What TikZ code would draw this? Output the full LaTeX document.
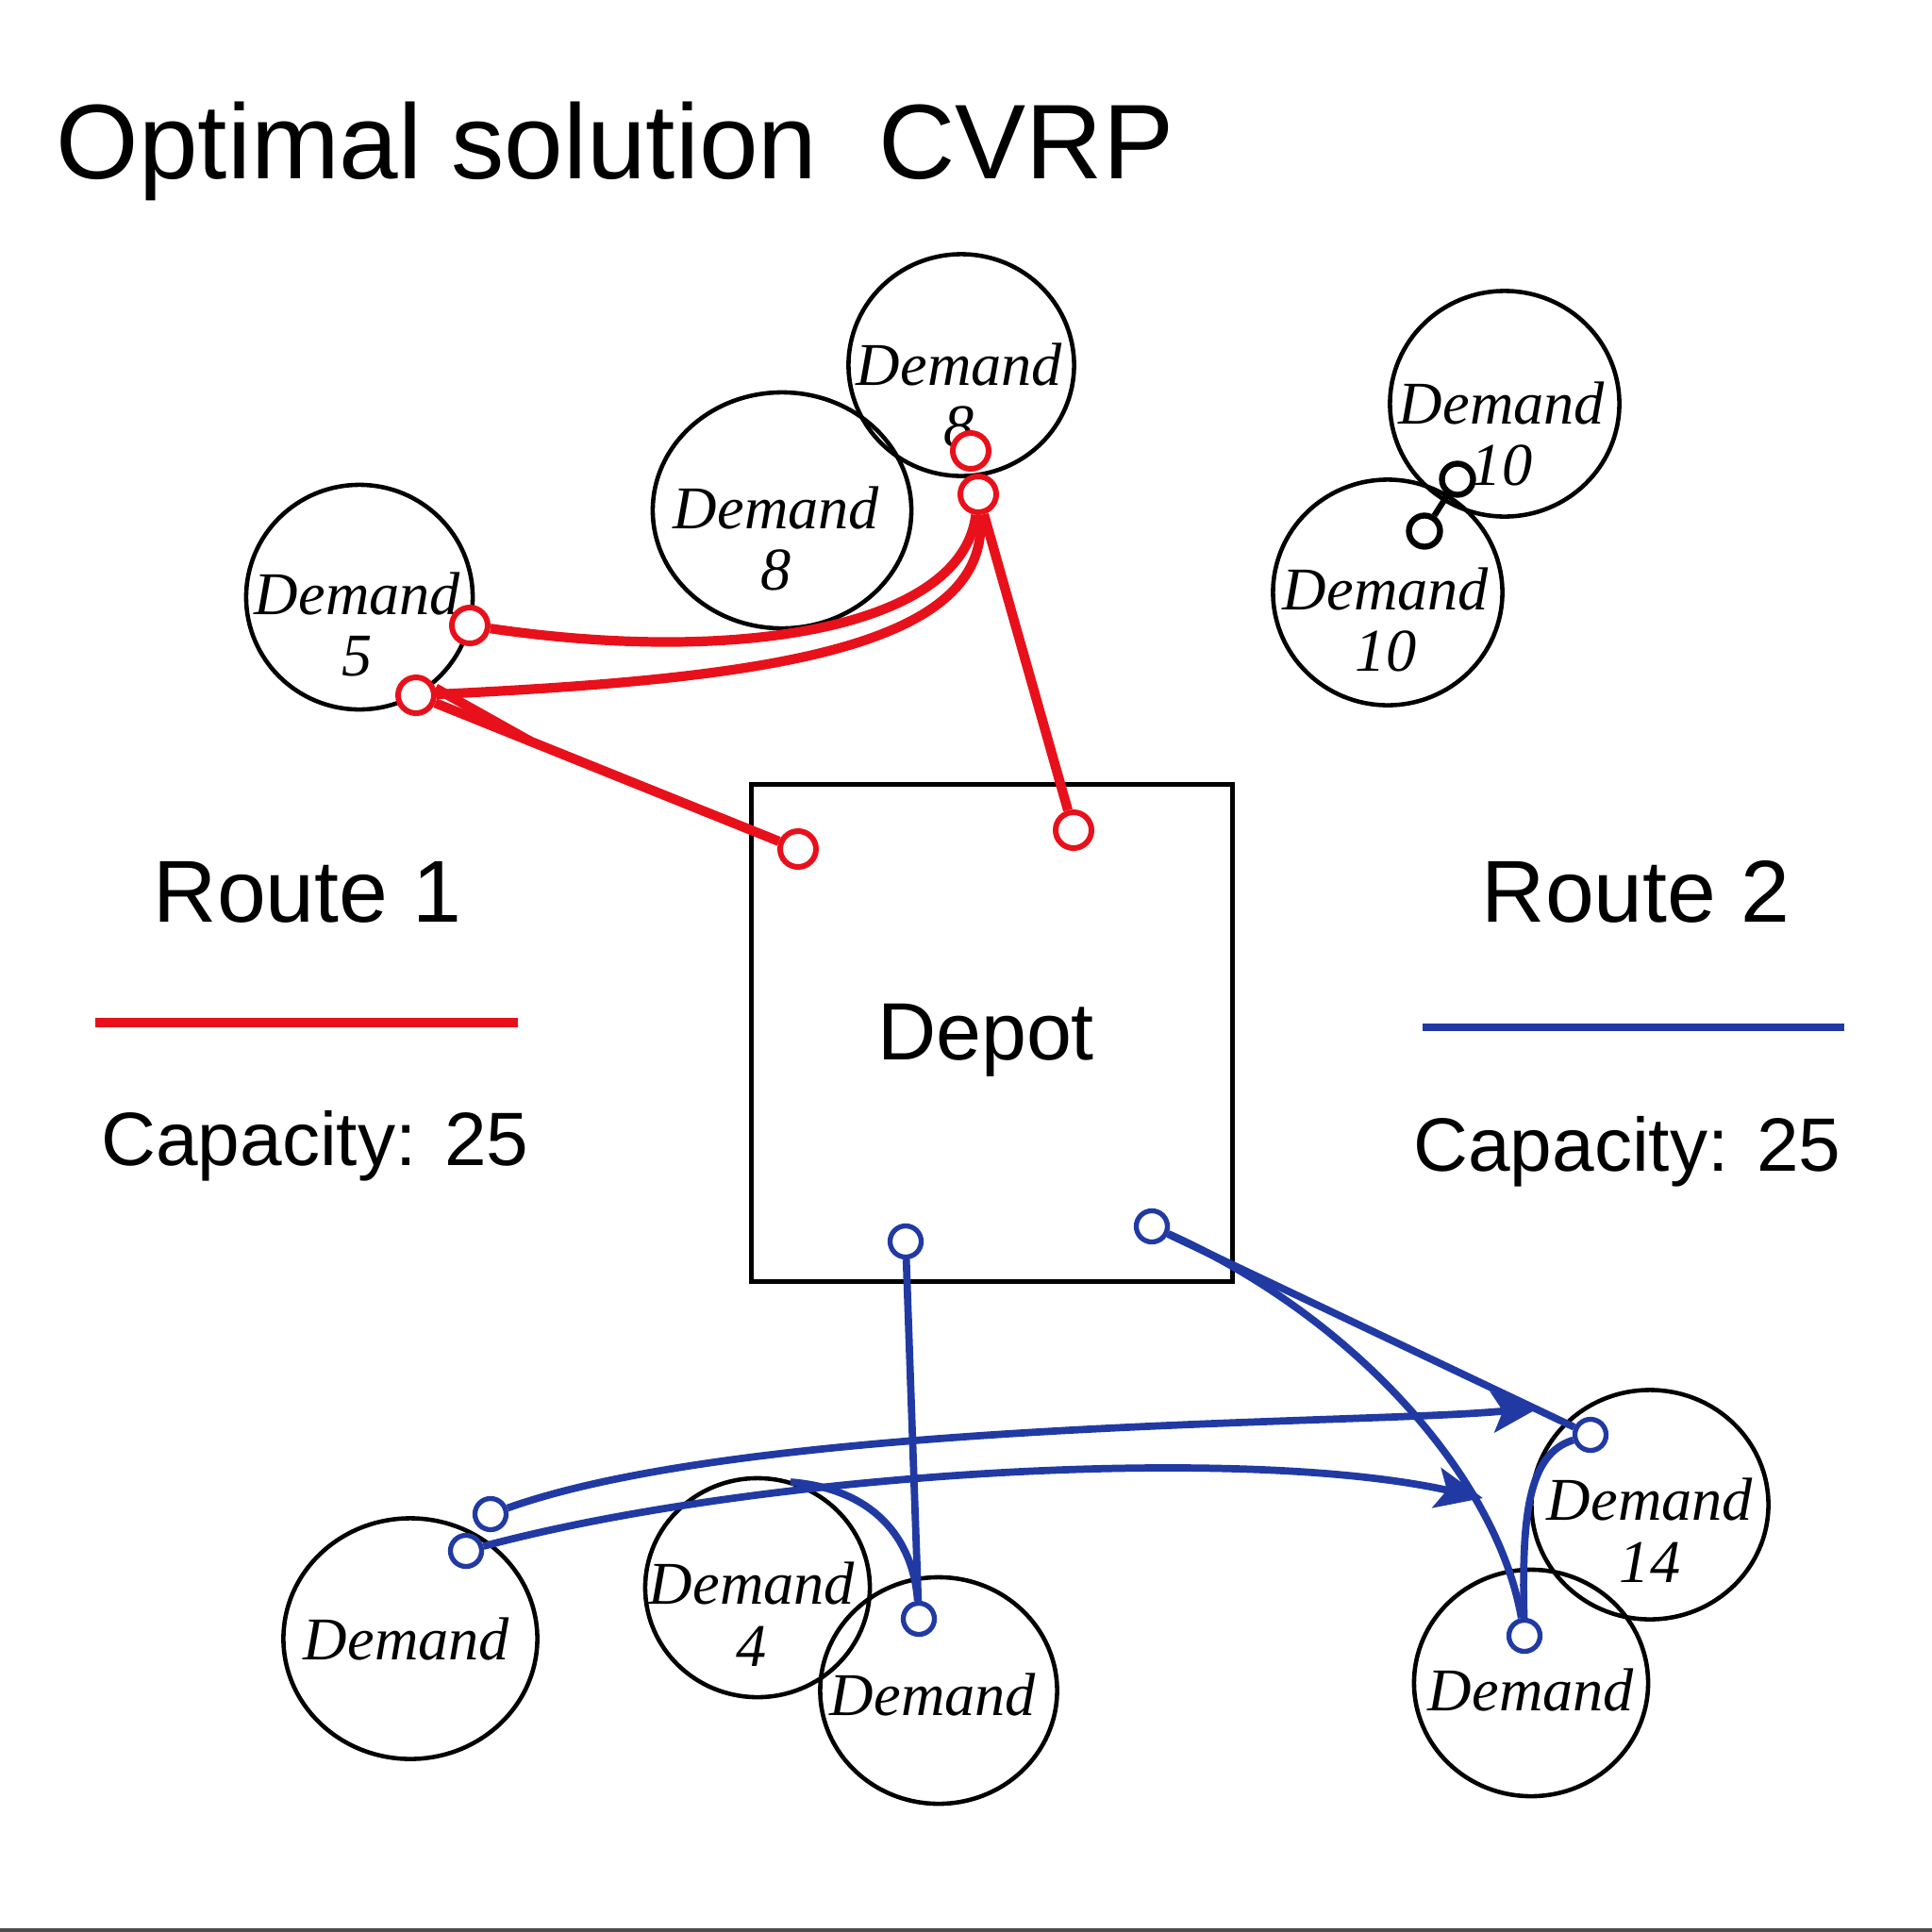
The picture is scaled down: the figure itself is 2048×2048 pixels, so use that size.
\documentclass[tikz,border=0pt]{standalone}
\usepackage{fontspec}
\setmainfont{Liberation Serif}
\newfontfamily\arialf{Liberation Sans}
\usetikzlibrary{shapes.geometric,arrows.meta,calc}
\definecolor{rred}{RGB}{232,17,27}
\definecolor{rblue}{RGB}{33,58,163}
\begin{document}
\begin{tikzpicture}[x=0.01cm,y=-0.01cm,
  dcirc/.style={ellipse,draw,line width=1.3pt,inner sep=0pt},
  dtext/.style={align=center,font=\fontsize{18.3}{18.6}\selectfont\itshape,inner sep=0pt},
  mk/.style={circle,draw,fill=white,line width=1.5pt,minimum size=0.34cm,inner sep=0pt},
  rmk/.style={mk,draw=rred,line width=1.7pt,minimum size=0.38cm},
  bmk/.style={mk,draw=rblue,line width=1.5pt,minimum size=0.33cm},
  kmk/.style={mk,line width=1.8pt,minimum size=0.33cm},
  rline/.style={rred,line width=2.9pt},
  bline/.style={rblue,line width=2.2pt},
  bigarrow/.style={-{Stealth[length=0.50cm,width=0.43cm,inset=0.11cm]}},
  titletext/.style={font=\arialf\fontsize{32}{36}\selectfont,inner sep=0pt},
  routetext/.style={font=\arialf\fontsize{26.5}{30}\selectfont,inner sep=0pt},
  captext/.style={font=\arialf\fontsize{22.8}{26}\selectfont,inner sep=0pt}
]
\useasboundingbox (0,0) rectangle (2048,2048);
\fill[white] (0,0) rectangle (2048,2048);
\fill[black!70] (0,2044) rectangle (2048,2048);

% title
\node[titletext,anchor=base west] (title) at (59,189) {Optimal solution\hspace{0.58em}CVRP};

% depot
\node[draw,line width=1.5pt,minimum width=5.09cm,minimum height=5.26cm,inner sep=0pt] (depot) at (1051.5,1095) {};
\node[font=\arialf\fontsize{24.5}{28}\selectfont,anchor=base,inner sep=0pt] (depotlbl) at (1045,1123) {Depot};

% legends
\node[routetext,anchor=base] (r1) at (326,977) {Route 1};
\node[routetext,anchor=base] (r2) at (1734,977) {Route 2};
\node[captext,anchor=base] (c1) at (334,1235) {Capacity: 25};
\node[captext,anchor=base] (c2) at (1725,1241) {Capacity: 25};
\draw[rred,line width=2.8pt] (101,1084) -- (549,1084);
\draw[rblue,line width=2.4pt] (1508,1089) -- (1955,1089);

% demand circles
\node[dcirc,minimum width=2.40cm,minimum height=2.38cm] (d5) at (381,633) {};
\node[dcirc,minimum width=2.74cm,minimum height=2.50cm] (d8a) at (829,541) {};
\node[dcirc,minimum width=2.39cm,minimum height=2.35cm] (d8b) at (1019,387) {};
\node[dcirc,minimum width=2.43cm,minimum height=2.39cm] (d10a) at (1595,428) {};
\node[dcirc,minimum width=2.43cm,minimum height=2.39cm] (d10b) at (1471,628) {};
\node[dcirc,minimum width=2.69cm,minimum height=2.55cm] (dbl) at (435,1737) {};
\node[dcirc,minimum width=2.38cm,minimum height=2.32cm] (d4) at (803,1683) {};
\node[dcirc,minimum width=2.51cm,minimum height=2.40cm] (dbm) at (995,1792) {};
\node[dcirc,minimum width=2.51cm,minimum height=2.43cm] (d14) at (1749,1595) {};
\node[dcirc,minimum width=2.48cm,minimum height=2.40cm] (dbr) at (1623,1784) {};

% demand texts
\node[dtext] (t5) at (379,662) {Demand\\5};
\node[dtext] (t8a) at (823,571) {Demand\\8};
\node[dtext] (t8b) at (1017,419) {Demand\\8};
\node[dtext] (t10a) at (1592,460) {Demand\\10};
\node[dtext] (t10b) at (1469,657) {Demand\\10};
\node[dtext] (tbl) at (431,1737) {Demand};
\node[dtext] (t4) at (797,1711) {Demand\\4};
\node[dtext] (tbm) at (989,1796) {Demand};
\node[dtext] (t14) at (1749,1622) {Demand\\14};
\node[dtext] (tbr) at (1623,1791) {Demand};

% red markers
\node[rmk] (m1) at (1029,478) {};
\node[rmk] (m2) at (1037,524) {};
\node[rmk] (m3) at (498,663) {};
\node[rmk] (m4) at (441,737) {};
\node[rmk] (m5) at (846,900) {};
\node[rmk] (m6) at (1138,880) {};

% black markers
\node[kmk] (k1) at (1545,508) {};
\node[kmk] (k2) at (1510,563) {};

% blue markers
\node[bmk] (b1) at (960,1316) {};
\node[bmk] (b2) at (1221,1300) {};
\node[bmk] (b3) at (520,1605) {};
\node[bmk] (b4) at (494,1644) {};
\node[bmk] (b5) at (974,1716) {};
\node[bmk] (b6) at (1686,1521) {};
\node[bmk] (b7) at (1616,1734) {};

% red route
\draw[rline] (m3) .. controls (784,705) and (1020,665) .. (m2);
\draw[rline] (m4) .. controls (800,720) and (1052,690) .. (m2);
\draw[rline] (m4) -- (m5);
\draw[rline] (m4.20) -- ($(m4)!0.3!(m5)$);
\draw[rline] (m2) -- (m6);

% black link
\draw[line width=1.8pt] (k1) -- (k2);

% blue route
\coordinate (a1) at (1632,1492);
\coordinate (a2) at (1572,1588);
\coordinate (jn) at (838,1571);
\draw[bline] (b1) -- (b5);
\draw[bline,bigarrow] (b3) .. controls (800,1505) and (1450,1510) .. (a1);
\draw[bline,bigarrow] (b4) .. controls (800,1562) and (1310,1530) .. (a2);
\draw[bline] (jn) .. controls (925,1578) and (968,1630) .. (b5);
\draw[bline] (b2) -- (b6);
\draw[bline] (b2) .. controls (1437,1397) and (1587,1567) .. (b7);
\draw[bline] (b6) .. controls (1620,1541) and (1613,1606) .. (b7);
\end{tikzpicture}
\end{document}
